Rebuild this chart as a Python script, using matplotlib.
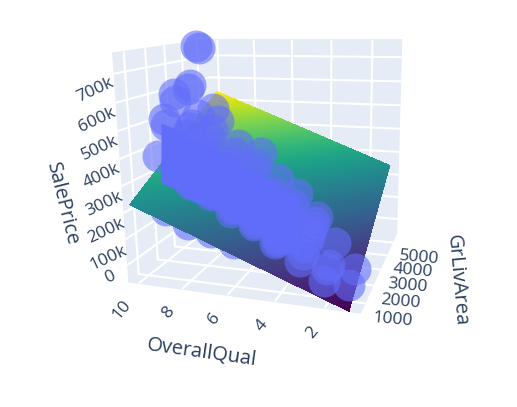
import numpy as np
import matplotlib
matplotlib.use("Agg")
import matplotlib.pyplot as plt
from mpl_toolkits.mplot3d import Axes3D  # noqa

INK = "#2a3f5f"
PANE = "#E5ECF6"
plt.rcParams["font.family"] = ["Open Sans", "DejaVu Sans"]
plt.rcParams["grid.color"] = "white"
plt.rcParams["grid.linewidth"] = 1.5

x_ticks = [2, 4, 6, 8, 10]
y_ticks = [1000, 2000, 3000, 4000, 5000]
z_ticks = [0, 100000, 200000, 300000, 400000, 500000, 600000, 700000]
z_tick_labels = ["0", "100k", "200k", "300k", "400k", "500k", "600k", "700k"]

# plane corners: (OverallQual, GrLivArea) -> SalePrice
plane_qual = [1, 10]
plane_area = [334, 5642]
plane_price = [[-52000, 244000], [243000, 539000]]

# points in front of the plane
front_qual = [10]*7 + [9]*16 + [8]*14 + [7]*14 + [6]*14 + [5]*12 + [4]*12 + [3]*8 + [2]*4 + [1]*2
front_area = [4316, 4476, 2822, 2868, 2234, 2296, 1800,
              2600, 2500, 4000,
              2620, 2500, 2270, 2100, 2000, 1900, 1800, 1700, 2400, 3000, 2250, 1950, 1650,
              1400, 1500, 1600, 1700, 1800, 1900, 2000, 2100, 2200, 2400, 1300, 1200, 2600, 3000,
              1200, 1300, 1400, 1500, 1600, 1700, 1800, 1900, 2000, 2100, 2300, 1100, 2600, 2900,
              1000, 1100, 1200, 1300, 1400, 1500, 1600, 1700, 1800, 2000, 2300, 2600, 900, 3000,
              900, 1000, 1100, 1200, 1300, 1400, 1500, 1600, 1800, 2100, 800, 2600,
              700, 800, 900, 1000, 1100, 1200, 1300, 1500, 1700, 600, 2000, 2300,
              600, 800, 1000, 1200, 1400, 1600, 1800, 2000,
              480, 720, 900, 1500,
              334, 904]
front_price = [755000, 745000, 583000, 557000, 502000, 475000, 370000,
               625000, 611000, 500000,
               470000, 460000, 440000, 415000, 400000, 380000, 355000, 340000, 430000, 500000, 390000, 365000, 345000,
               300000, 315000, 325000, 340000, 360000, 370000, 385000, 390000, 410000, 435000, 300000, 295000, 455000, 480000,
               270000, 275000, 265000, 275000, 285000, 290000, 300000, 310000, 320000, 330000, 350000, 265000, 370000, 390000,
               225000, 228000, 230000, 232000, 230000, 235000, 245000, 255000, 260000, 280000, 310000, 330000, 222000, 360000,
               188000, 190000, 192000, 193000, 195000, 195000, 205000, 210000, 230000, 250000, 185000, 280000,
               142000, 145000, 148000, 150000, 160000, 165000, 170000, 185000, 200000, 140000, 215000, 240000,
               85000, 100000, 115000, 130000, 145000, 155000, 165000, 175000,
               35000, 60000, 65000, 110000,
               39000, 61000]

# points behind the plane
back_qual = [9, 8, 7, 6, 5, 4]
back_area = [1000, 1000, 1000, 1000, 1000, 1000]
back_price = [200000, 155000, 134000, 100000, 105000, 86000]

# densest stack of points at each quality level
core_qual = [9, 8, 7, 6, 5, 4]
core_area = [1500, 1500, 1500, 1500, 1500, 1500]
core_price = [376000, 329000, 303000, 256000, 220000, 173000]

fig = plt.figure(figsize=(5.17, 4.07), dpi=100, facecolor="white")
cx, cy = 267, 407 - 160
side = 407
ax = fig.add_axes([(cx - side/2)/517, (cy - side/2)/407, side/517, side/407], projection="3d")
ax.patch.set_alpha(0)
ax.set_proj_type("persp", focal_length=0.30)
ax.set_box_aspect((1.09, 1, 1.05), zoom=0.885)
ax.view_init(elev=13, azim=-71, roll=1)
ax.computed_zorder = False

ax.set_xlim(10.5, 0.6)
ax.set_ylim(500, 5800)
ax.set_zlim(-65000, 770000)

u = np.linspace(0, 1, 80)
qq = plane_qual[0] + (plane_qual[1] - plane_qual[0]) * u
aa = plane_area[0] + (plane_area[1] - plane_area[0]) * u
Q, A = np.meshgrid(qq, aa, indexing="ij")
U, V = np.meshgrid(u, u, indexing="ij")
pp = np.array(plane_price)
P = pp[0, 0]*(1-U)*(1-V) + pp[0, 1]*(1-U)*V + pp[1, 0]*U*(1-V) + pp[1, 1]*U*V

marker = dict(s=530, c="#636EFA", alpha=0.6, linewidths=0, depthshade=False, clip_on=False)
ax.scatter(back_qual, back_area, back_price, zorder=1, **marker)
ax.plot_surface(Q, A, P, cmap="viridis", rstride=1, cstride=1, linewidth=0,
                antialiased=False, shade=False, zorder=2)
ax.scatter(front_qual, front_area, front_price, zorder=3, **marker)
stack = [(-12, -25), (12, -35), (12, 25), (-12, 35)]
ax.scatter(core_qual, core_area, core_price, marker=stack, s=2540, c="#606CFA", linewidths=0,
           depthshade=False, clip_on=False, zorder=4)

ax.set_xticks(x_ticks)
ax.set_yticks(y_ticks)
ax.set_zticks(z_ticks)
ax.set_zticklabels(z_tick_labels)
for axis, rot, pad, ha in ((ax.xaxis, 50, -1, "right"), (ax.yaxis, -5, -4, "left"), (ax.zaxis, 25, 0, "center")):
    axis.set_pane_color(PANE)
    axis.pane.set_edgecolor(PANE)
    axis.line.set_color((0, 0, 0, 0))
    axis.set_tick_params(colors=INK, color=(0, 0, 0, 0), labelsize=12.5, pad=pad)
    for t in axis.get_ticklabels():
        t.set_rotation(rot)
        t.set_color(INK)
        t.set_ha(ha)
ax.zaxis.set_ticks_position("lower")

fig.text(202/517, 1 - 353/407, "OverallQual", color=INK, fontsize=14.5, rotation=-8, ha="center", va="center")
fig.text(457/517, 1 - 280/407, "GrLivArea", color=INK, fontsize=14.5, rotation=-85, ha="center", va="center")
fig.text(62/517, 1 - 204/407, "SalePrice", color=INK, fontsize=14.5, rotation=-76, ha="center", va="center")

fig.savefig("out.png", dpi=100)
